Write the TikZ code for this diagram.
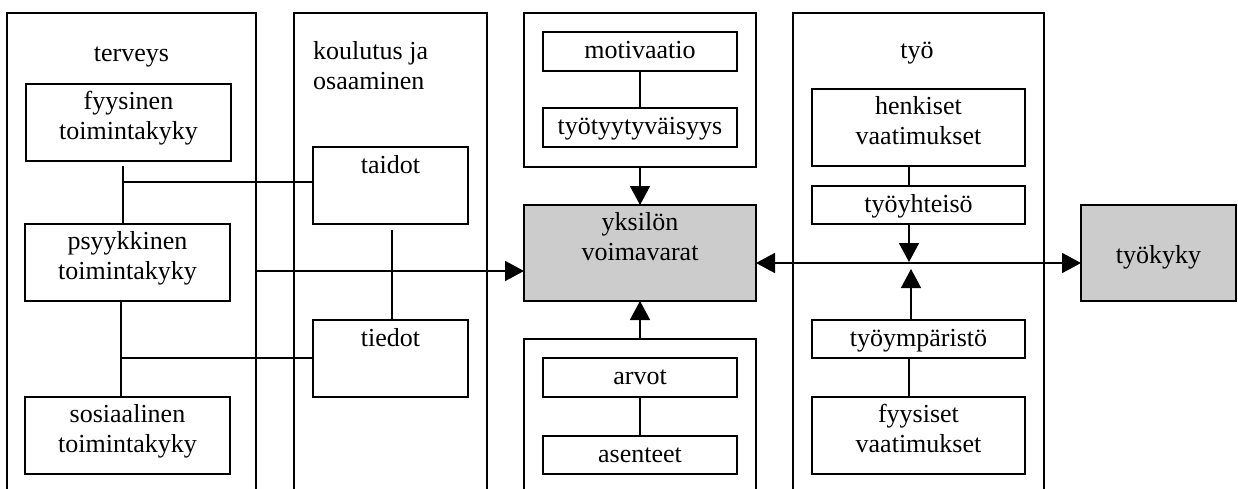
\documentclass[tikz,border=0pt]{standalone}
\usepackage{fontspec}
\setmainfont{Liberation Serif}
\usetikzlibrary{arrows.meta}
\definecolor{shade}{HTML}{CCCCCC}
% a framed box given by its corners (x1,y1)-(x2,y2), y measured downwards
\newcommand\frameat[6][]{\node[box,#1,minimum width={#5-#3},minimum height={#6-#4}] (#2) at ({(#3+#5)/2},{(#4+#6)/2}) {};}
% a framed box with its caption set from the top edge
\newcommand\capbox[7][]{\frameat[#1]{#2}{#3}{#4}{#5}{#6}%
  \node[txt] (#2-t) at ([yshift=-7pt]#2.north) {#7};}
\begin{document}
\begin{tikzpicture}[x=1pt,y=-1pt,
  box/.style={draw,line width=1.7pt,inner sep=0pt,outer sep=0pt},
  txt/.style={inner sep=0pt,anchor=north,align=center,
    font=\fontsize{26}{30}\selectfont,
    execute at begin node={\rule{0pt}{19pt}}},
  conn/.style={line width=1.7pt},
  arr/.style={conn,-{Triangle[width=20pt,length=19pt]}},
  darr/.style={conn,{Triangle[width=20pt,length=19pt]}-{Triangle[width=20pt,length=19pt]}}]
\useasboundingbox (0,0) rectangle (1238,488);
\clip (0,0) rectangle (1238,488);

% outer groups (they run past the lower edge)
\frameat{terv}{7}{13}{256}{520}
\frameat{koul}{294}{13}{487}{520}
\frameat{motbox}{524}{13}{756}{167}
\frameat{arvbox}{524}{339}{756}{520}
\frameat{tyo}{793}{13}{1044}{520}

\node[txt] (terv-t) at (131.5,42) {terveys};
\node[txt,anchor=north west,align=left] (koul-t) at (313,41) {koulutus ja\\osaaminen};
\node[txt] (tyo-t) at (917,39) {työ};

% health
\capbox{fyys}{26}{84}{231}{161}{fyysinen\\toimintakyky}
\capbox{psy}{25}{224}{230}{301}{psyykkinen\\toimintakyky}
\capbox{sos}{25}{397}{230}{474}{sosiaalinen\\toimintakyky}

% education
\capbox{taid}{313}{147}{468}{224}{taidot}
\capbox{tied}{313}{320}{468}{397}{tiedot}

% individual
\capbox{motiv}{543}{32}{737}{71}{motivaatio}
\capbox{tyyt}{543}{108}{737}{147}{työtyytyväisyys}
\capbox[fill=shade]{yks}{524}{205}{756}{301}{yksilön\\voimavarat}
\capbox{arvot}{543}{358}{737}{397}{arvot}
\capbox{asent}{543}{436}{737}{474}{asenteet}

% work
\capbox{henk}{812}{89}{1025}{166}{henkiset\\vaatimukset}
\capbox{yht}{812}{186}{1025}{224}{työyhteisö}
\capbox{ymp}{812}{320}{1025}{358}{työympäristö}
\capbox{fyysv}{812}{397}{1025}{474}{fyysiset\\vaatimukset}

% work ability
\frameat[fill=shade]{kyky}{1081}{205}{1236}{301}
\node[txt] (kyky-t) at ([yshift=-39pt]kyky.north) {työkyky};

% junctions and guide points
\coordinate (j1) at (123,182);
\coordinate (j2) at (121,358);
\coordinate (j3) at (392,230);
\coordinate (r1) at (0,271);
\coordinate (r2) at (0,263);
\coordinate (c1) at (909,262);
\coordinate (c2) at (911,269);

% health and education links
\draw[conn] (j1 |- fyys.south) ++(0,5) -- (j1 |- psy.north);
\draw[conn] (j1) -- (j1 -| taid.west);
\draw[conn] (j2 |- psy.south) -- (j2 |- sos.north);
\draw[conn] (j2) -- (j2 -| tied.west);
\draw[conn] (j3) -- (j3 |- tied.north);
\draw[arr] (terv.east |- r1) -- (yks.west |- r1);

% individual resources
\draw[conn] (motiv) -- (tyyt);
\draw[arr] (motbox) -- (yks);
\draw[conn] (arvot) -- (asent);
\draw[arr] (arvbox.north) -- (yks.south);

% work
\draw[conn] (c1 |- henk.south) -- (c1 |- yht.north);
\draw[arr] (c1 |- yht.south) -- (c1);
\draw[arr] (c2 |- ymp.north) -- (c2);
\draw[conn] (c1 |- ymp.south) -- (c1 |- fyysv.north);
\draw[darr] (yks.east |- r2) -- (kyky.west |- r2);
\end{tikzpicture}
\end{document}
